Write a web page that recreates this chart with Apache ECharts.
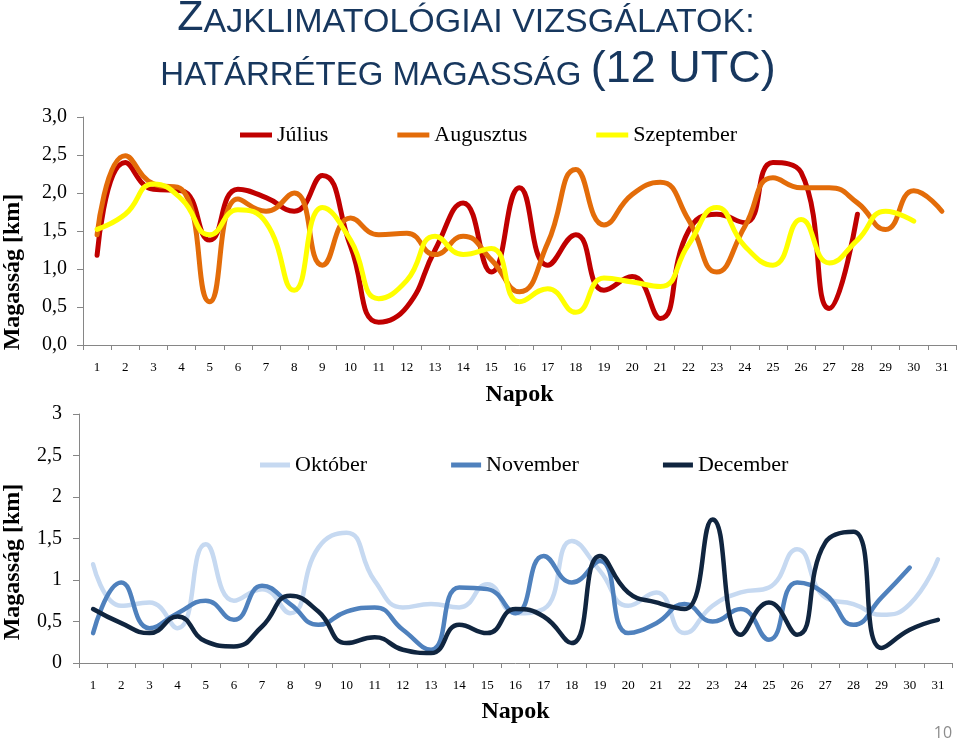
<!DOCTYPE html>
<html><head><meta charset="utf-8">
<script src="https://cdn.jsdelivr.net/npm/echarts@6/dist/echarts.min.js"></script>
<style>html,body{margin:0;padding:0;background:#fff}#c{width:960px;height:740px}</style>
</head><body><div id="c"></div>
<script>
const days = ['1','2','3','4','5','6','7','8','9','10','11','12','13','14','15','16','17','18','19','20','21','22','23','24','25','26','27','28','29','30','31'];
const yTickLabelsTop = ['0,0','0,5','1,0','1,5','2,0','2,5','3,0'];
const yTickLabelsBottom = ['0','0,5','1','1,5','2','2,5','3'];

const julius = [1.18, 2.40, 2.05, 2.03, 1.38, 2.05, 1.94, 1.76, 2.23, 1.30, 0.30, 0.50, 1.25, 1.87, 0.96, 2.07, 1.05, 1.45, 0.72, 0.90, 0.35, 1.50, 1.72, 1.61, 2.40, 2.27, 0.48, 1.72];
const augusztus = [1.45, 2.49, 2.12, 2.05, 0.57, 1.92, 1.76, 2.00, 1.05, 1.67, 1.45, 1.47, 1.19, 1.43, 1.12, 0.70, 1.34, 2.31, 1.58, 1.98, 2.14, 1.65, 0.96, 1.56, 2.20, 2.07, 2.07, 1.87, 1.52, 2.03, 1.76];
const szeptember = [1.52, 1.72, 2.12, 1.92, 1.45, 1.78, 1.61, 0.72, 1.81, 1.38, 0.61, 0.85, 1.43, 1.19, 1.27, 0.57, 0.74, 0.43, 0.88, 0.83, 0.77, 1.32, 1.81, 1.30, 1.05, 1.65, 1.08, 1.38, 1.76, 1.63];
const oktober = [1.19, 0.69, 0.73, 0.42, 1.43, 0.75, 0.89, 0.60, 1.39, 1.57, 0.99, 0.67, 0.71, 0.67, 0.95, 0.60, 0.65, 1.47, 1.11, 0.69, 0.85, 0.36, 0.69, 0.85, 0.91, 1.37, 0.79, 0.71, 0.58, 0.71, 1.25];
const november = [0.36, 0.97, 0.42, 0.60, 0.75, 0.52, 0.93, 0.71, 0.46, 0.62, 0.67, 0.40, 0.16, 0.91, 0.89, 0.60, 1.29, 0.97, 1.23, 0.36, 0.48, 0.71, 0.50, 0.65, 0.28, 0.97, 0.83, 0.46, 0.79, 1.15];
const december = [0.65, 0.48, 0.36, 0.56, 0.26, 0.20, 0.44, 0.81, 0.62, 0.24, 0.31, 0.16, 0.12, 0.46, 0.36, 0.65, 0.56, 0.24, 1.29, 0.85, 0.73, 0.65, 1.73, 0.34, 0.73, 0.34, 1.45, 1.58, 0.18, 0.40, 0.52];

const SERIF = "'Liberation Serif', 'Times New Roman', serif";
const SANS = "'Liberation Sans', Arial, sans-serif";
const AX = '#868686';
const TITLE = '#17375E';

function xAxisCfg(grid) {
  return {
    type: 'category', gridIndex: grid, data: days, boundaryGap: true,
    axisLine: {show: true, lineStyle: {color: AX, width: 1}},
    axisTick: {show: true, length: 5, lineStyle: {color: AX}},
    axisLabel: {margin: 16, fontSize: 13, fontFamily: SERIF, color: '#000', interval: 0},
    splitLine: {show: false},
    name: 'Napok', nameLocation: 'middle', nameGap: grid === 0 ? 38 : 37,
    nameTextStyle: {fontSize: 24, fontWeight: 'bold', fontFamily: SERIF, color: '#000'}
  };
}
function yAxisCfg(grid, labels, margin) {
  return {
    type: 'value', gridIndex: grid, min: 0, max: 3, interval: 0.5,
    axisLine: {show: true, lineStyle: {color: AX, width: 1}},
    axisTick: {show: true, length: 6, lineStyle: {color: AX}},
    axisLabel: {margin: margin, fontSize: 20, fontFamily: SERIF, color: '#000',
      formatter: v => labels[Math.round(v / 0.5)]},
    splitLine: {show: false}
  };
}
function line(name, data, color, xi, width) {
  return {
    name, type: 'line', data, xAxisIndex: xi, yAxisIndex: xi, smooth: 0.5,
    symbol: 'none', lineStyle: {width, color, cap: 'round'}, itemStyle: {color},
    emphasis: {disabled: true}
  };
}

const chart = echarts.init(document.getElementById('c'), null, {renderer: 'canvas'});
chart.setOption({
  animation: false,
  backgroundColor: '#fff',
  grid: [
    {left: 83, right: 4, top: 117, bottom: 395},
    {left: 79, right: 8, top: 414, bottom: 77}
  ],
  xAxis: [xAxisCfg(0), xAxisCfg(1)],
  yAxis: [yAxisCfg(0, yTickLabelsTop, 16), yAxisCfg(1, yTickLabelsBottom, 17)],
  legend: [
    {data: ['Július', 'Augusztus', 'Szeptember'], left: 240, top: 124, padding: 0, icon: 'rect',
     itemWidth: 32, itemHeight: 5, itemGap: 69, selectedMode: false,
     textStyle: {fontSize: 22, fontFamily: SERIF, color: '#000'}},
    {data: ['Október', 'November', 'December'], left: 260, top: 454, padding: 0, icon: 'rect',
     itemWidth: 30, itemHeight: 5, itemGap: 84, selectedMode: false,
     textStyle: {fontSize: 22, fontFamily: SERIF, color: '#000'}}
  ],
  series: [
    line('Július', julius, '#C00000', 0, 5),
    line('Augusztus', augusztus, '#E36C09', 0, 5),
    line('Szeptember', szeptember, '#FFFF00', 0, 5),
    line('Október', oktober, '#C6D9F1', 1, 4.5),
    line('November', november, '#4F81BD', 1, 4.5),
    line('December', december, '#10253F', 1, 4.5)
  ],
  graphic: [
    {type: 'text', x: 466, y: 40, silent: true, style: {
      text: '{a|Z}{b|AJKLIMATOLÓGIAI VIZSGÁLATOK:}', align: 'center', verticalAlign: 'bottom',
      fill: TITLE,
      rich: {a: {fontSize: 43, fontFamily: SANS, fill: TITLE, verticalAlign: 'bottom'},
             b: {fontSize: 34, fontFamily: SANS, fill: TITLE, verticalAlign: 'bottom'}}}},
    {type: 'text', x: 468, y: 92, silent: true, style: {
      text: '{b|HATÁRRÉTEG MAGASSÁG }{a|(12 UTC)}', align: 'center', verticalAlign: 'bottom',
      fill: TITLE,
      rich: {a: {fontSize: 45, fontFamily: SANS, fill: TITLE, verticalAlign: 'bottom'},
             b: {fontSize: 33, fontFamily: SANS, fill: TITLE, verticalAlign: 'bottom'}}}},
    {type: 'text', x: 13, y: 272, rotation: Math.PI / 2, silent: true, style: {
      text: 'Magasság [km]', align: 'center', verticalAlign: 'middle', fill: '#000',
      font: "bold 24px 'Liberation Serif', serif"}},
    {type: 'text', x: 13, y: 562, rotation: Math.PI / 2, silent: true, style: {
      text: 'Magasság [km]', align: 'center', verticalAlign: 'middle', fill: '#000',
      font: "bold 24px 'Liberation Serif', serif"}},
    {type: 'text', x: 943, y: 733, silent: true, style: {
      text: '10', align: 'center', verticalAlign: 'middle', fill: '#8C8C8C',
      font: "16px 'Open Sans', sans-serif"}}
  ]
});
</script></body></html>
